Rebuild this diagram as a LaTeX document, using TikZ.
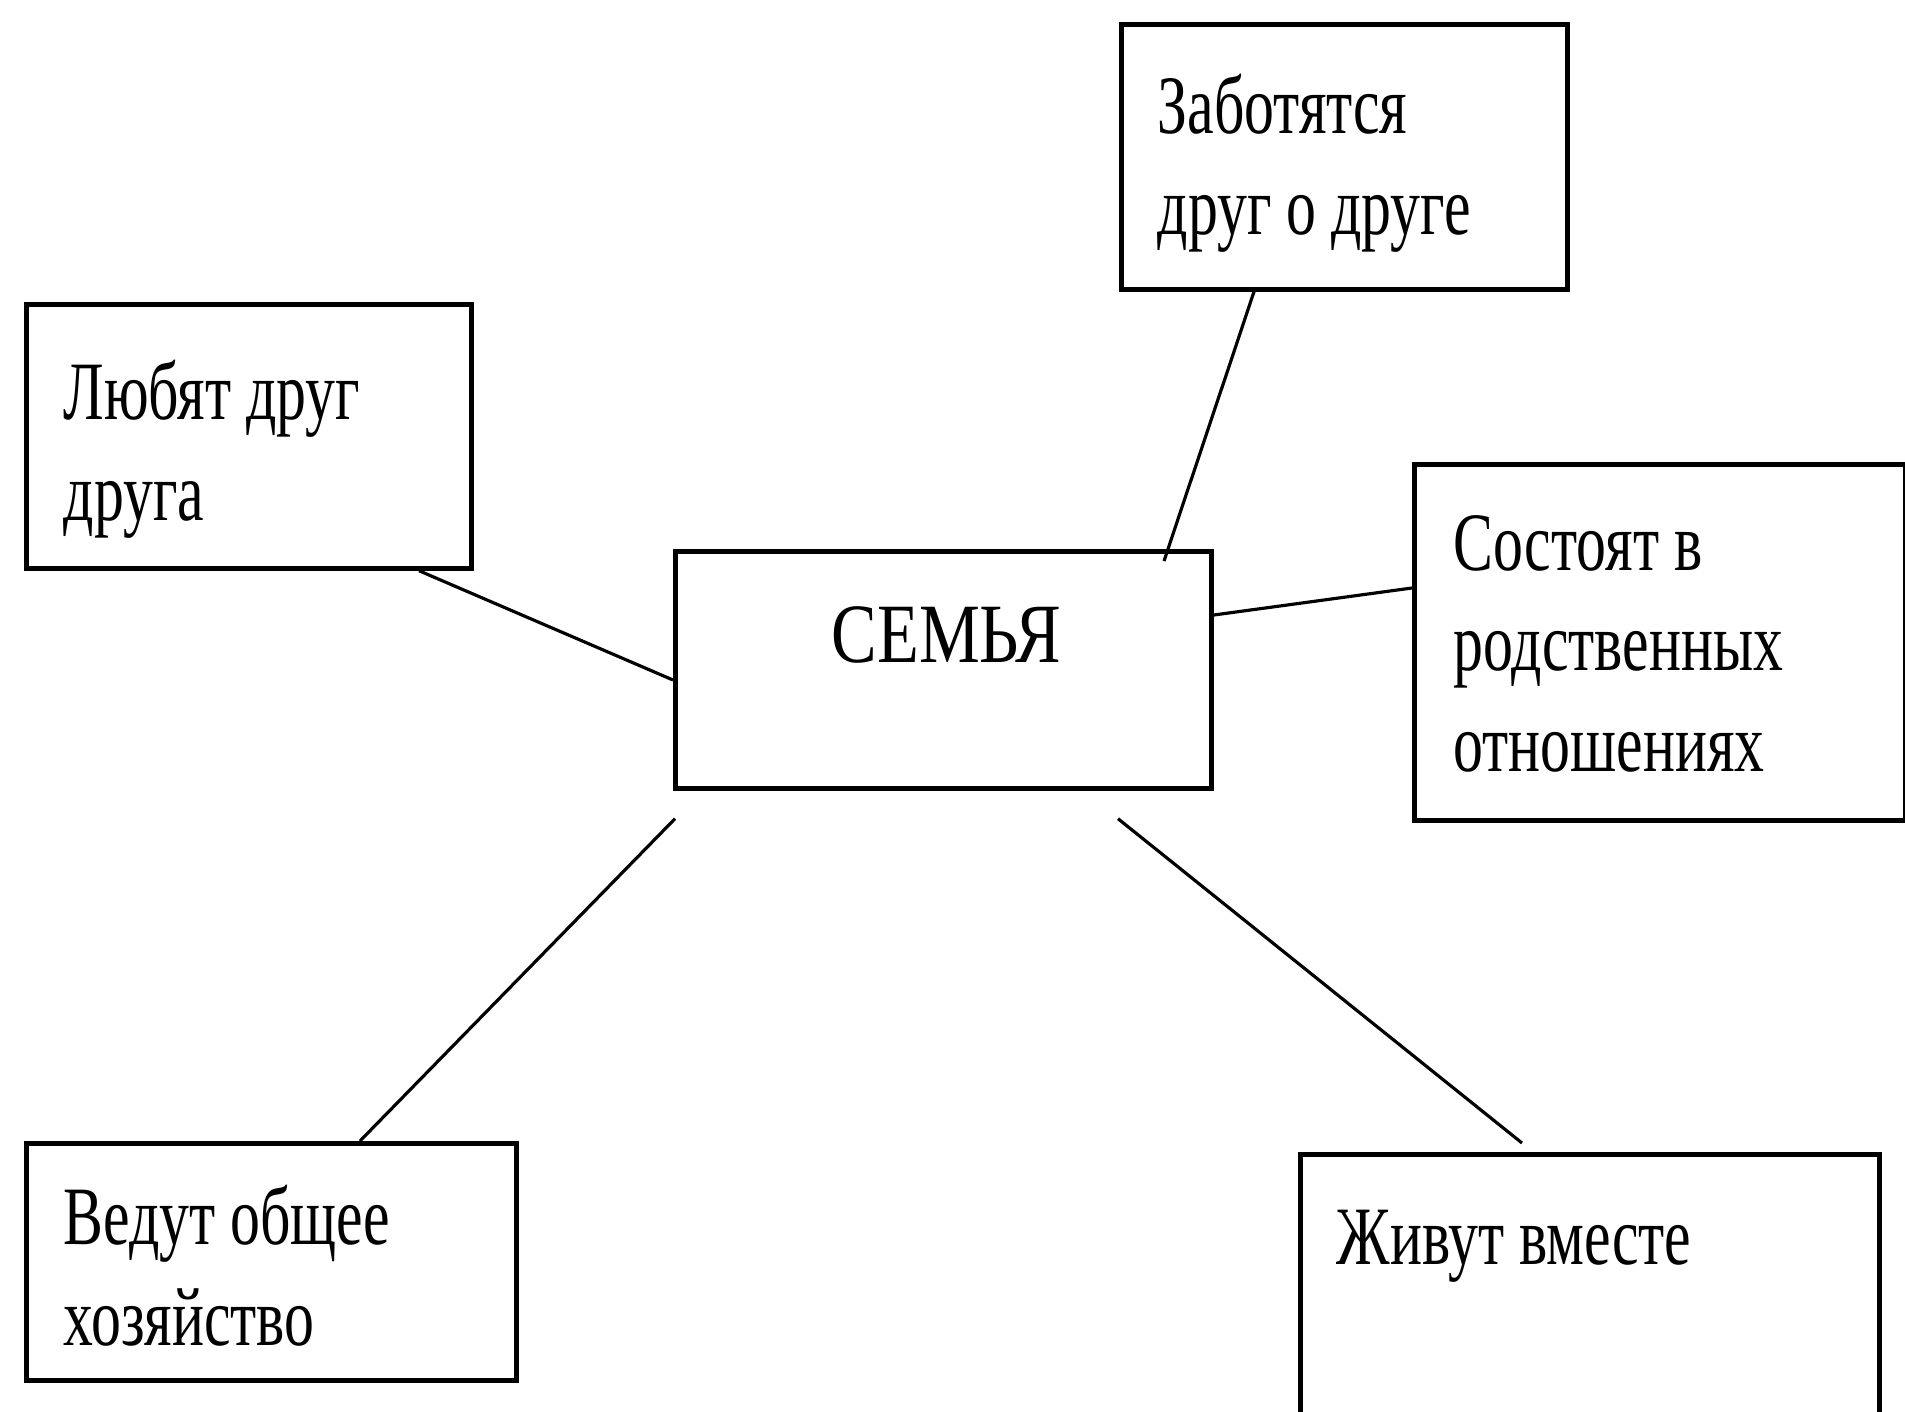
\documentclass[tikz,border=0pt]{standalone}
\usepackage{fontspec}
\setmainfont[FakeStretch=0.72]{Liberation Serif}
\newfontfamily\wideserif[FakeStretch=0.81]{Liberation Serif}
\usetikzlibrary{calc}

\begin{document}
\begin{tikzpicture}[
  x=0.01cm,y=-0.01cm,
  box/.style={draw,line width=1.3pt,anchor=north west,inner sep=0pt},
  boxtext/.style={anchor=base west,align=left,inner sep=0pt,
    font=\fontsize{23.6}{28.5}\selectfont},
  link/.style={line width=0.9pt}
]
  \clip (0,0) rectangle (1905,1412);
  % boxes
  \node[box,minimum width=4.45cm,minimum height=2.64cm] (love) at (24,302) {};
  \node[box,minimum width=4.46cm,minimum height=2.65cm] (care) at (1119,22) {};
  \node[box,minimum width=5.36cm,minimum height=2.37cm] (family) at (673,549) {};
  \node[box,minimum width=4.91cm,minimum height=3.56cm] (kin) at (1412,462) {};
  \node[box,minimum width=4.90cm,minimum height=2.37cm] (house) at (24,1141) {};
  \node[box,minimum width=5.79cm,minimum height=3.20cm] (live) at (1298,1152) {};
  % texts (base = last line)
  \node[boxtext] (lovetext) at ($(love.north west)+(39,218)$) {Любят друг\\друга};
  \node[boxtext] (caretext) at ($(care.north west)+(38,212)$) {Заботятся\\друг о друге};
  \node[boxtext,anchor=base,font=\fontsize{24}{28.5}\wideserif] (familytext)
    at ($(family.north)+(3,113)$) {СЕМЬЯ};
  \node[boxtext] (kintext) at ($(kin.north west)+(41,309)$) {Состоят в\\родственных\\отношениях};
  \node[boxtext] (housetext) at ($(house.north west)+(39,204)$) {Ведут общее\\хозяйство};
  \node[boxtext] (livetext) at ($(live.north west)+(38,112)$) {Живут вместе};
  % connectors
  \draw[link] ($(love.south west)+(395,0)$) -- ($(family.north west)+(0,131)$);
  \draw[link] ($(care.south west)+(135,0)$) -- ($(family.north west)+(491,12)$);
  \draw[link] ($(family.north east)+(0,66)$) -- ($(kin.north west)+(0,126)$);
  \draw[link] ($(family.south west)+(2,28)$) -- ($(house.north west)+(336,0)$);
  \draw[link] ($(family.south west)+(445,28)$) -- ($(live.north west)+(224,-9)$);
\end{tikzpicture}
\end{document}
